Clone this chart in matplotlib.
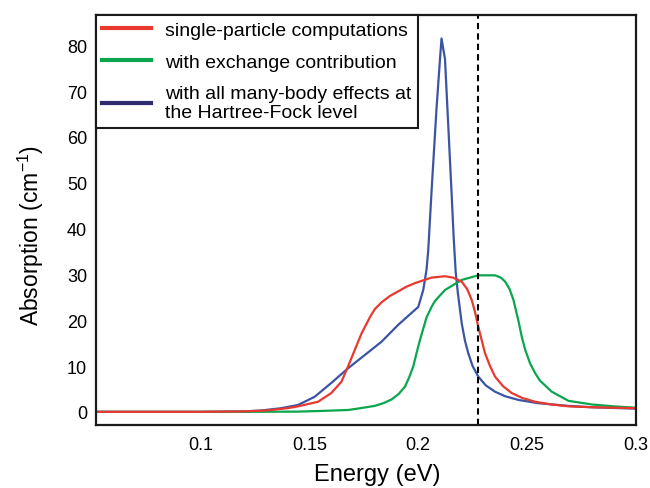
import matplotlib.pyplot as plt
from matplotlib.lines import Line2D

plt.rcParams['font.family'] = ['Liberation Sans', 'DejaVu Sans']
plt.rcParams['mathtext.default'] = 'regular'

# single-particle computations
x_sp = [0.05, 0.10, 0.12, 0.13, 0.14, 0.1447, 0.1539, 0.160, 0.1647, 0.1677,
        0.1708, 0.1739, 0.1777, 0.1800, 0.1831, 0.1870, 0.1908, 0.1945, 0.1985, 0.2061,
        0.2123, 0.2160, 0.22, 0.2225, 0.2246, 0.2262, 0.2276, 0.2292, 0.2307, 0.2330,
        0.2353, 0.2390, 0.243, 0.2480, 0.2538, 0.2614, 0.2691, 0.28, 0.29, 0.30]
y_sp = [0, 0, 0.1, 0.3, 0.8, 1.2, 2.2, 4.1, 6.6, 9.9,
        13.5, 17.1, 20.6, 22.4, 23.9, 25.3, 26.3, 27.3, 28.1, 29.3,
        29.6, 29.3, 28.4, 26.8, 24.4, 21.6, 18.6, 15.6, 12.8, 10.0,
        7.7, 5.6, 4.1, 3.0, 2.2, 1.6, 1.2, 1.0, 0.9, 0.8]

# with exchange contribution
x_ex = [0.05, 0.12, 0.1447, 0.1554, 0.1677, 0.1720, 0.18, 0.1840, 0.1877, 0.1910,
        0.1939, 0.1958, 0.1977, 0.1992, 0.2008, 0.2038, 0.2061, 0.2077, 0.2123, 0.2200,
        0.2276, 0.2353, 0.2380, 0.2400, 0.2420, 0.2438, 0.2461, 0.2476, 0.2492, 0.2515,
        0.2538, 0.2560, 0.2614, 0.2691, 0.28, 0.29, 0.30]
y_ex = [0, 0, 0.05, 0.2, 0.4, 0.7, 1.3, 1.9, 2.7, 3.9,
        5.5, 7.5, 9.9, 12.8, 15.7, 20.6, 22.9, 24.2, 26.6, 28.8,
        29.8, 29.8, 29.3, 28.4, 26.8, 24.4, 19.8, 16.4, 13.5, 10.5,
        8.4, 6.8, 4.4, 2.4, 1.6, 1.2, 0.9]

# with all many-body effects (Hartree-Fock)
x_hf = [0.05, 0.10, 0.12, 0.128, 0.137, 0.1447, 0.1524, 0.160, 0.1677, 0.1754,
        0.1831, 0.1908, 0.2000, 0.2023, 0.2038, 0.2046, 0.2061, 0.2084, 0.2100, 0.2107,
        0.2123, 0.2138, 0.2153, 0.2163, 0.2172, 0.2182, 0.2200, 0.2215, 0.2230, 0.2250,
        0.2276, 0.2310, 0.2353, 0.2400, 0.2461, 0.2550, 0.2691, 0.28, 0.30]
y_hf = [0, 0, 0.1, 0.3, 0.8, 1.5, 3.3, 6.3, 9.5, 12.4,
        15.3, 19.0, 22.9, 26.6, 31.0, 35.3, 48.0, 66.2, 77.0, 81.5,
        77.0, 62.5, 48.0, 38.0, 30.6, 26.0, 19.3, 15.5, 12.8, 10.0,
        7.7, 5.8, 4.4, 3.4, 2.6, 1.9, 1.3, 1.0, 0.7]

labels = ['single-particle computations', 'with exchange contribution',
          'with all many-body effects at\nthe Hartree-Fock level']
dashed_x = 0.2277

red = '#e8392f'
green = '#0aa64e'
blue = '#3b55a5'
navy = '#2e2b6e'

fig = plt.figure(figsize=(6.5, 4.89), dpi=100)
ax = fig.add_axes([0.147, 0.1295, 0.831, 0.8385])

ax.plot(x_hf, y_hf, color=blue, lw=1.6)
ax.plot(x_ex, y_ex, color=green, lw=1.6)
ax.plot(x_sp, y_sp, color=red, lw=1.6)
ax.axvline(dashed_x, color='black', lw=1.5, ls=(0, (3, 2)))

ax.set_xlim(0.0516, 0.3)
ax.set_ylim(-2.8, 86.7)
ax.set_xticks([0.1, 0.15, 0.2, 0.25, 0.3])
ax.set_xticklabels(['0.1', '0.15', '0.2', '0.25', '0.3'])
ax.set_yticks(range(0, 81, 10))
ax.tick_params(length=0, labelsize=13)
ax.tick_params(axis='x', pad=8)
ax.tick_params(axis='y', pad=6)
for s in ax.spines.values():
    s.set_linewidth(1.6)
    s.set_color('#1a1a1a')
ax.set_xlabel('Energy (eV)', fontsize=17)
ax.xaxis.set_label_coords(0.522, -0.093)
ax.set_ylabel('Absorption (cm$^{-1}$)', fontsize=16.5)
ax.yaxis.set_label_coords(-0.092, 0.465)

handles = [Line2D([], [], color=c, lw=3) for c in (red, green, navy)]
leg = ax.legend(handles, labels, loc='upper left', bbox_to_anchor=(0, 1),
                borderaxespad=0, fontsize=14, fancybox=False, framealpha=1,
                edgecolor='#1a1a1a', handlelength=2.5, handletextpad=0.7,
                labelspacing=0.72, borderpad=0.35)
leg.get_frame().set_linewidth(1.5)

fig.savefig('out.png', dpi=100)
